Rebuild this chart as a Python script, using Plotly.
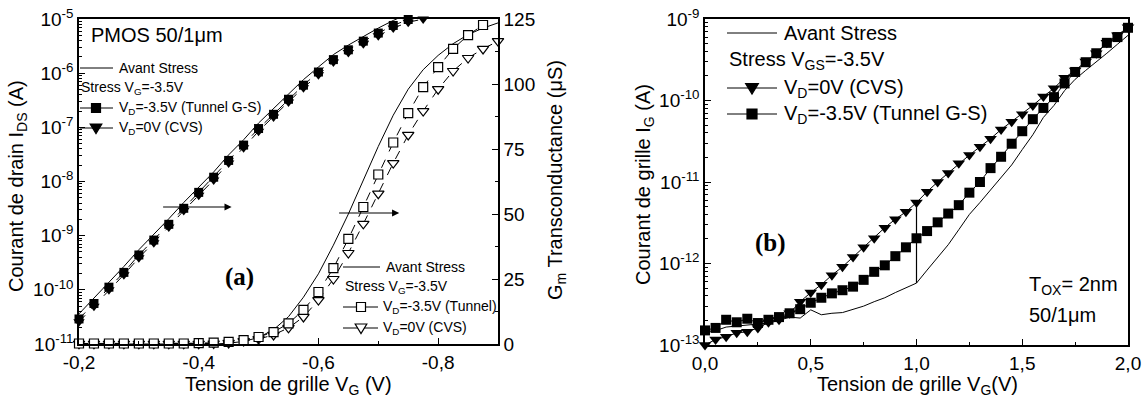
import plotly.graph_objects as go

W, H = 1147, 399

# ---------------- Panel (a) data ----------------
VG_A = [-0.2, -0.225, -0.25, -0.275, -0.3, -0.325, -0.35, -0.375, -0.4, -0.425,
        -0.45, -0.475, -0.5, -0.525, -0.55, -0.575, -0.6, -0.625, -0.65, -0.675,
        -0.7, -0.725, -0.75, -0.775, -0.8, -0.825, -0.85, -0.875, -0.9]

IDS_AVANT = [3.6e-11, 7.0e-11, 1.4e-10, 2.7e-10, 5.5e-10, 1.05e-9, 2.05e-9, 4.1e-9,
             7.9e-9, 1.5e-8, 3.1e-8, 5.9e-8, 1.2e-7, 2.2e-7, 4.2e-7, 7.6e-7, 1.3e-6,
             2.2e-6, 3.3e-6, 4.8e-6, 6.8e-6, 9.4e-6, 1.25e-5]
IDS_TUNNEL = [2.9e-11, 5.6e-11, 1.12e-10, 2.1e-10, 4.4e-10, 8.3e-10, 1.62e-9, 3.2e-9,
              6.3e-9, 1.2e-8, 2.45e-8, 4.7e-8, 9.5e-8, 1.74e-7, 3.3e-7, 6.0e-7, 1.05e-6,
              1.78e-6, 2.7e-6, 3.9e-6, 5.5e-6, 7.6e-6, 9.8e-6]
IDS_CVS = [2.57e-11, 5.0e-11, 1.0e-10, 1.9e-10, 3.9e-10, 7.4e-10, 1.45e-9, 2.9e-9,
           5.6e-9, 1.07e-8, 2.2e-8, 4.2e-8, 8.5e-8, 1.55e-7, 2.95e-7, 5.4e-7, 9.3e-7,
           1.6e-6, 2.4e-6, 3.5e-6, 4.9e-6, 6.8e-6, 8.7e-6, 1.0e-5]

GM_AVANT = [0.0, 0.0, 0.0, 0.0, 0.0, 0.0, 0.0, 0.0, 0.0, 0.0, 0.3, 1.0, 2.5, 5.5, 10.5,
            18.0, 27.0, 38.0, 50.0, 63.0, 76.0, 88.0, 98.0, 105.5, 111.0, 115.5, 119.0,
            121.5, 123.5]
GM_TUNNEL = [0.2, 0.2, 0.2, 0.2, 0.2, 0.2, 0.2, 0.2, 0.3, 0.5, 0.8, 1.5, 2.7, 4.6, 7.9,
             13.1, 20.0, 29.2, 40.4, 52.7, 65.2, 77.5, 88.8, 98.8, 106.5, 113.5, 118.8,
             122.7]
GM_CVS = [0.1, 0.1, 0.1, 0.1, 0.1, 0.1, 0.1, 0.1, 0.1, 0.2, 0.4, 1.1, 1.9, 3.5, 6.2,
          10.4, 16.9, 25.0, 35.0, 46.2, 57.8, 69.6, 80.4, 89.6, 98.0, 105.0, 110.0,
          113.5, 116.5]

XA_TICKS = [-0.2, -0.4, -0.6, -0.8]
XA_TEXT = ["-0,2", "-0,4", "-0,6", "-0,8"]
YA_TICKS = [1e-11, 1e-10, 1e-9, 1e-8, 1e-7, 1e-6, 1e-5]
YA_TEXT = ["10<sup>-11</sup>", "10<sup>-10</sup>", "10<sup>-9</sup>", "10<sup>-8</sup>",
           "10<sup>-7</sup>", "10<sup>-6</sup>", "10<sup>-5</sup>"]
Y2_TICKS = [0, 25, 50, 75, 100, 125]

# ---------------- Panel (b) data ----------------
VG_B = [0.0, 0.05, 0.1, 0.15, 0.2, 0.25, 0.3, 0.35, 0.4, 0.45, 0.5, 0.55, 0.6, 0.65,
        0.7, 0.75, 0.8, 0.85, 0.9, 0.95, 1.0, 1.05, 1.1, 1.15, 1.2, 1.25, 1.3, 1.35,
        1.4, 1.45, 1.5, 1.55, 1.6, 1.65, 1.7, 1.75, 1.8, 1.85, 1.9, 1.95, 2.0]
IG_AVANT = [1.45e-13, 1.5e-13, 1.66e-13, 1.7e-13, 1.74e-13, 1.78e-13, 1.86e-13, 2.0e-13,
            2.2e-13, 2.14e-13, 2.7e-13, 2.35e-13, 2.45e-13, 2.5e-13, 2.75e-13, 3.0e-13,
            3.4e-13, 3.8e-13, 4.4e-13, 5.0e-13, 5.75e-13, 8.3e-13, 1.2e-12, 1.7e-12,
            2.6e-12, 4.0e-12, 5.6e-12, 7.9e-12, 1.12e-11, 1.62e-11, 2.5e-11, 3.8e-11,
            6.2e-11, 8.7e-11, 1.32e-10, 1.82e-10, 2.34e-10, 2.95e-10, 3.8e-10, 4.9e-10,
            6.3e-10]
IG_CVS = [1.0e-13, 1.17e-13, 1.26e-13, 1.41e-13, 1.45e-13, 1.62e-13, 1.9e-13, 2.04e-13,
          2.45e-13, 3.4e-13, 4.4e-13, 5.5e-13, 7.2e-13, 9.1e-13, 1.2e-12, 1.58e-12,
          2.04e-12, 2.75e-12, 3.5e-12, 4.3e-12, 5.6e-12, 7.6e-12, 1.0e-11, 1.29e-11,
          1.7e-11, 2.14e-11, 2.7e-11, 3.4e-11, 4.4e-11, 5.5e-11, 6.8e-11, 8.7e-11,
          1.12e-10, 1.41e-10, 1.9e-10, 2.34e-10, 3.0e-10, 3.8e-10, 5.1e-10, 6.3e-10,
          7.9e-10]
IG_TUNNEL = [1.51e-13, 1.62e-13, 2.04e-13, 1.9e-13, 2.1e-13, 1.86e-13, 2.04e-13, 2.2e-13,
             2.45e-13, 2.75e-13, 3.3e-13, 3.8e-13, 4.3e-13, 4.7e-13, 5.2e-13, 6.3e-13,
             7.9e-13, 9.5e-13, 1.23e-12, 1.58e-12, 2.04e-12, 2.5e-12, 3.2e-12, 4.1e-12,
             5.2e-12, 7.4e-12, 1.0e-11, 1.48e-11, 2.04e-11, 2.95e-11, 4.2e-11, 5.9e-11,
             8.1e-11, 1.1e-10, 1.62e-10, 2.24e-10, 2.95e-10, 3.8e-10, 5.1e-10, 6.0e-10,
             7.8e-10]
MARK_VG = 1.0  # vertical marker line in panel (b)

XB_TICKS = [0.0, 0.5, 1.0, 1.5, 2.0]
XB_TEXT = ["0,0", "0,5", "1,0", "1,5", "2,0"]
YB_TICKS = [1e-13, 1e-12, 1e-11, 1e-10, 1e-9]
YB_TEXT = ["10<sup>-13</sup>", "10<sup>-12</sup>", "10<sup>-11</sup>", "10<sup>-10</sup>",
           "10<sup>-9</sup>"]

FONT = "Liberation Sans"
SERIF = "Liberation Serif"


def minor_log(lo, hi):
    out = []
    for e in range(lo, hi):
        for m in range(2, 10):
            out.append(m * 10.0 ** e)
    return out


def px(x):
    return x / W


def py(y):
    return 1 - y / H


fig = go.Figure()

# Panel (a): drain current (left log axis)
fig.add_trace(go.Scatter(x=VG_A[:len(IDS_AVANT)], y=IDS_AVANT, mode="lines",
                         line=dict(color="black", width=1), xaxis="x", yaxis="y"))
fig.add_trace(go.Scatter(x=VG_A[:len(IDS_TUNNEL)], y=IDS_TUNNEL, mode="lines+markers",
                         line=dict(color="black", width=1, dash="dash"),
                         marker=dict(symbol="square", size=9, color="black"),
                         cliponaxis=False, xaxis="x", yaxis="y"))
fig.add_trace(go.Scatter(x=VG_A[:len(IDS_CVS)], y=IDS_CVS, mode="lines+markers",
                         line=dict(color="black", width=1, dash="dash"),
                         marker=dict(symbol="triangle-down", size=10, color="black"),
                         cliponaxis=False, xaxis="x", yaxis="y"))

# Panel (a): transconductance (right linear axis)
fig.add_trace(go.Scatter(x=VG_A[:len(GM_AVANT)], y=GM_AVANT, mode="lines",
                         line=dict(color="black", width=1), xaxis="x", yaxis="y2"))
fig.add_trace(go.Scatter(x=VG_A[:len(GM_CVS)], y=GM_CVS, mode="lines+markers",
                         line=dict(color="black", width=1, dash="dash"),
                         marker=dict(symbol="triangle-down", size=10, color="white",
                                     line=dict(color="black", width=1.2)),
                         cliponaxis=False, xaxis="x", yaxis="y2"))
fig.add_trace(go.Scatter(x=VG_A[:len(GM_TUNNEL)], y=GM_TUNNEL, mode="lines+markers",
                         line=dict(color="black", width=1, dash="dash"),
                         marker=dict(symbol="square", size=9, color="white",
                                     line=dict(color="black", width=1.2)),
                         cliponaxis=False, xaxis="x", yaxis="y2"))

# Panel (b): gate current
fig.add_trace(go.Scatter(x=VG_B, y=IG_AVANT, mode="lines",
                         line=dict(color="black", width=1), xaxis="x2", yaxis="y3"))
fig.add_trace(go.Scatter(x=VG_B, y=IG_CVS, mode="lines+markers",
                         line=dict(color="black", width=1),
                         marker=dict(symbol="triangle-down", size=11, color="black"),
                         cliponaxis=False, xaxis="x2", yaxis="y3"))
fig.add_trace(go.Scatter(x=VG_B, y=IG_TUNNEL, mode="lines+markers",
                         line=dict(color="black", width=1),
                         marker=dict(symbol="square", size=10, color="black"),
                         cliponaxis=False, xaxis="x2", yaxis="y3"))
k = VG_B.index(MARK_VG)
fig.add_trace(go.Scatter(x=[VG_B[k], VG_B[k]], y=[IG_AVANT[k], IG_CVS[k]], mode="lines",
                         line=dict(color="black", width=1.2), xaxis="x2", yaxis="y3"))

axis_common = dict(showline=True, linecolor="black", linewidth=1.5, showgrid=False,
                   zeroline=False, ticks="inside", ticklen=6, tickwidth=1.2,
                   automargin=False,
                   tickcolor="black", tickfont=dict(family=FONT, size=19, color="black"))

fig.update_layout(
    template="none",
    width=W, height=H, autosize=False,
    margin=dict(l=0, r=0, t=0, b=0, pad=0),
    paper_bgcolor="white", plot_bgcolor="white",
    showlegend=False,
    font=dict(family=FONT, color="black"),
    xaxis=dict(domain=[px(79), px(498)], anchor="y", range=[-0.2, -0.9],
               tickmode="array", tickvals=XA_TICKS, ticktext=XA_TEXT, mirror=True,
               minor=dict(tickmode="array", tickvals=[-0.3, -0.5, -0.7], ticks="inside",
                          ticklen=3, tickcolor="black"),
               **axis_common),
    yaxis=dict(domain=[py(344), py(19)], anchor="x", type="log", range=[-11, -5],
               tickmode="array", tickvals=YA_TICKS, ticktext=YA_TEXT, mirror=True,
               minor=dict(tickmode="array", tickvals=minor_log(-11, -5), ticks="inside",
                          ticklen=3, tickcolor="black"),
               **axis_common),
    yaxis2=dict(overlaying="y", side="right", anchor="x", range=[0, 125],
                tickmode="array", tickvals=Y2_TICKS,
                minor=dict(tickmode="array", tickvals=[12.5, 37.5, 62.5, 87.5, 112.5],
                           ticks="inside", ticklen=3, tickcolor="black"),
                **axis_common),
    xaxis2=dict(domain=[px(705), px(1128)], anchor="y3", range=[0, 2],
                tickmode="array", tickvals=XB_TICKS, ticktext=XB_TEXT, mirror=True,
                minor=dict(tickmode="array", tickvals=[0.25, 0.75, 1.25, 1.75],
                           ticks="inside", ticklen=3, tickcolor="black"),
                **axis_common),
    yaxis3=dict(domain=[py(345), py(19)], anchor="x2", type="log", range=[-13, -9],
                tickmode="array", tickvals=YB_TICKS, ticktext=YB_TEXT, mirror=True,
                minor=dict(tickmode="array", tickvals=minor_log(-13, -9), ticks="inside",
                           ticklen=3, tickcolor="black"),
                **axis_common),
)

shapes = []
annotations = []


def text(x, y, s, size, anchor="left", angle=0, family=FONT, **kw):
    annotations.append(dict(x=px(x), y=py(y), xref="paper", yref="paper", text=s,
                            showarrow=False, xanchor=anchor, yanchor="middle",
                            textangle=angle, font=dict(family=family, size=size,
                                                       color="black"), **kw))


def seg(x0, x1, y, w=1):
    shapes.append(dict(type="line", xref="paper", yref="paper", x0=px(x0), x1=px(x1),
                       y0=py(y), y1=py(y), line=dict(color="black", width=w)))


def square(xc, yc, s, filled):
    shapes.append(dict(type="rect", xref="paper", yref="paper",
                       x0=px(xc - s / 2), x1=px(xc + s / 2), y0=py(yc + s / 2),
                       y1=py(yc - s / 2), line=dict(color="black", width=1.2),
                       fillcolor="black" if filled else "white"))


def tri(xc, yc, s, filled):
    pts = [(xc - s * 0.58, yc - s * 0.4), (xc + s * 0.58, yc - s * 0.4), (xc, yc + s * 0.55)]
    path = "M " + " L ".join(f"{px(a)},{py(b)}" for a, b in pts) + " Z"
    shapes.append(dict(type="path", xref="paper", yref="paper", path=path,
                       line=dict(color="black", width=1.2),
                       fillcolor="black" if filled else "white"))


# Panel (a) legend 1 (drain current)
seg(80, 113, 68)
text(117, 68, "Avant Stress", 14)
text(79, 88, "Stress V<sub>G</sub>=-3.5V", 14)
seg(80, 113, 108)
square(96, 108, 9, True)
text(117, 108, "V<sub>D</sub>=-3.5V (Tunnel G-S)", 14)
seg(80, 113, 128)
tri(96, 128, 10, True)
text(117, 128, "V<sub>D</sub>=0V (CVS)", 14)
text(89, 35, "PMOS 50/1μm", 20)
text(240, 277, "<b>(a)</b>", 25, anchor="center", family=SERIF)

# Panel (a) legend 2 (transconductance)
seg(343, 380, 267)
text(384, 267, "Avant Stress", 14)
text(343, 287, "Stress V<sub>G</sub>=-3.5V", 14)
seg(343, 378, 307)
square(361, 307, 9, False)
text(381, 307, "V<sub>D</sub>=-3.5V (Tunnel)", 14)
seg(343, 378, 328)
tri(361, 328, 10, False)
text(381, 328, "V<sub>D</sub>=0V (CVS)", 14)

# Panel (a) arrows
annotations.append(dict(x=-0.455, y=-8.47, ax=-0.338, ay=-8.47, xref="x", yref="y",
                        axref="x", ayref="y", showarrow=True, arrowhead=2, arrowsize=1.3,
                        arrowwidth=1.1, arrowcolor="black", text=""))
annotations.append(dict(x=-0.735, y=50.4, ax=-0.632, ay=50.4, xref="x", yref="y2",
                        axref="x", ayref="y2", showarrow=True, arrowhead=2, arrowsize=1.3,
                        arrowwidth=1.1, arrowcolor="black", text=""))

# Panel (a) axis titles
text(17, 186, "Courant de drain I<sub>DS</sub> (A)", 20, anchor="center", angle=-90)
text(556, 180, "G<sub>m</sub> Transconductance (μS)", 20, anchor="center", angle=-90)
text(288, 385, "Tension de grille V<sub>G</sub> (V)", 20, anchor="center")

# Panel (b) legend
seg(727, 777, 33)
text(782, 33, "Avant Stress", 20)
text(727, 60, "Stress V<sub>GS</sub>=-3.5V", 20)
seg(727, 777, 88)
tri(752, 88, 11, True)
text(782, 88, "V<sub>D</sub>=0V (CVS)", 20)
seg(727, 777, 114)
square(752, 114, 10, True)
text(782, 114, "V<sub>D</sub>=-3.5V (Tunnel G-S)", 20)
text(770, 243, "<b>(b)</b>", 25, anchor="center", family=SERIF)
text(1027, 285, "T<sub>OX</sub>= 2nm", 20)
text(1027, 315, "50/1μm", 20)

# Panel (b) axis titles
text(645, 185, "Courant de grille I<sub>G</sub> (A)", 20, anchor="center", angle=-90)
text(917, 385, "Tension de grille V<sub>G</sub>(V)", 20, anchor="center")

fig.update_layout(shapes=shapes, annotations=annotations)
fig.write_html("out.html", config={"displayModeBar": False},
               post_script="document.body.style.margin='0';document.body.style.overflow='hidden';")
